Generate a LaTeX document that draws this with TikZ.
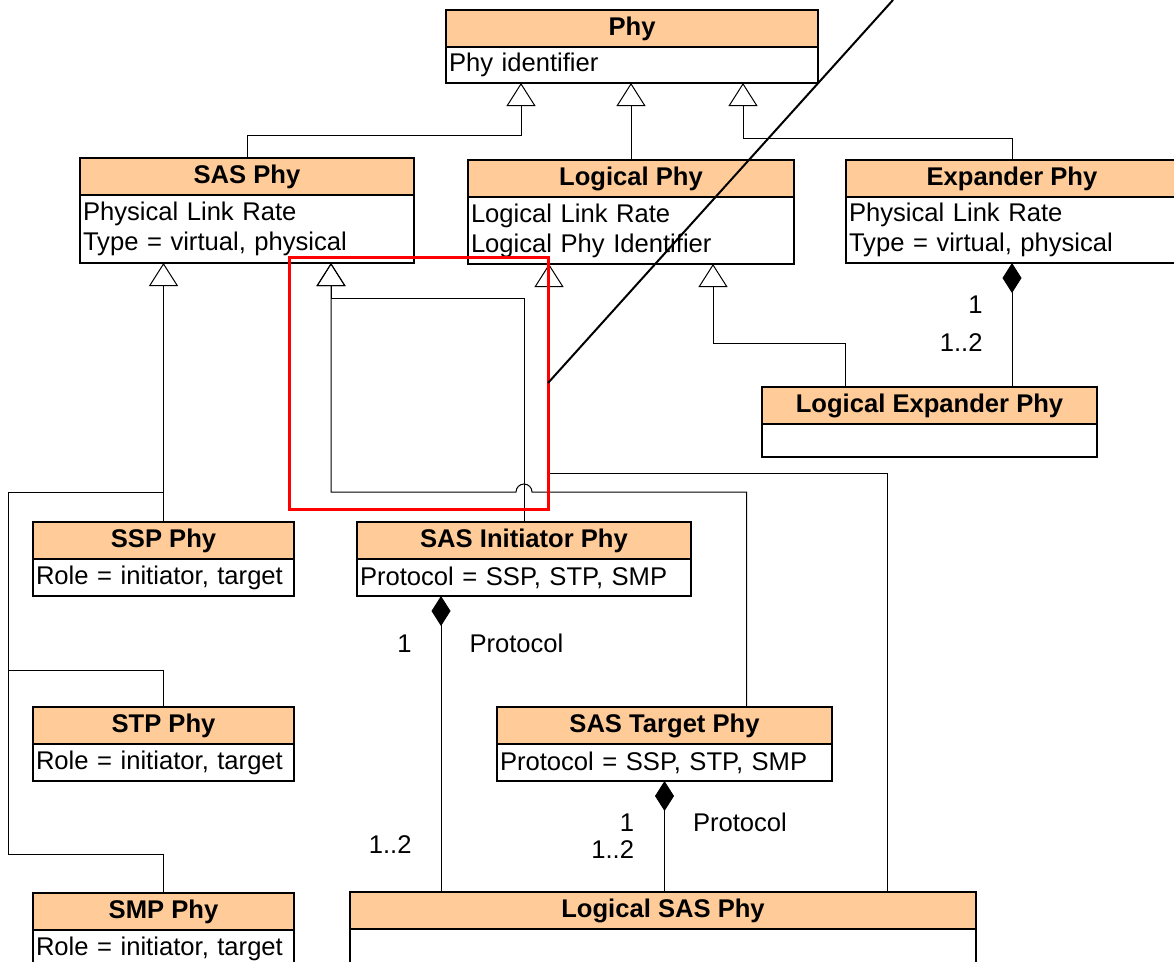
\documentclass[tikz,border=0pt]{standalone}
\usepackage{fontspec}
\setmainfont{Liberation Sans}
\usepackage{xcolor}
\usepackage{tikz}
\usetikzlibrary{arrows.meta,positioning}
\definecolor{classhead}{RGB}{255,204,153}
\newcommand{\classfont}{\fontsize{25.6}{30}\selectfont}

\begin{document}
\begin{tikzpicture}[x=1pt,y=-1pt,
  font=\classfont,
  head/.style={draw,fill=classhead,font=\classfont\bfseries,line width=1.7pt,outer sep=0pt,inner sep=0pt,minimum height=37pt,minimum width=#1,anchor=north west},
  attrs/.style={draw,fill=white,line width=1.7pt,outer sep=0pt,inner xsep=3pt,inner ysep=0pt,align=left,text width=#1},
  gen/.style={-{Triangle[open,length=23pt,width=29pt]},line width=1pt},
  comp/.style={-{Diamond[length=30pt,width=19pt]},line width=1pt},
  wire/.style={line width=1pt},
  mult/.style={inner sep=0pt}]
\path[use as bounding box,clip] (0,0) rectangle (1174,961);
\node[head=372pt] (phy) at (446,10) {Phy};
\node[attrs=366pt,minimum height=36pt,below=0pt of phy] (phy-a) {Phy identifier};
\node[head=334pt] (sasphy) at (80,158) {SAS Phy};
\node[attrs=328pt,minimum height=68pt,below=0pt of sasphy] (sasphy-a) {Physical Link Rate\\Type = virtual, physical};
\node[head=326pt] (logphy) at (468,160) {Logical Phy};
\node[attrs=320pt,minimum height=67pt,below=0pt of logphy] (logphy-a) {Logical Link Rate\\Logical Phy Identifier};
\node[head=332pt] (expphy) at (846,160) {Expander Phy};
\node[attrs=326pt,minimum height=66pt,below=0pt of expphy] (expphy-a) {Physical Link Rate\\Type = virtual, physical};
\node[head=335pt] (logexp) at (762,387) {Logical Expander Phy};
\node[attrs=329pt,minimum height=33pt,below=0pt of logexp] (logexp-a) {};
\node[head=261pt] (ssp) at (33,522) {SSP Phy};
\node[attrs=255pt,minimum height=37pt,below=0pt of ssp] (ssp-a) {Role = initiator, target};
\node[head=261pt] (stp) at (33,707) {STP Phy};
\node[attrs=255pt,minimum height=37pt,below=0pt of stp] (stp-a) {Role = initiator, target};
\node[head=261pt] (smp) at (33,893) {SMP Phy};
\node[attrs=255pt,minimum height=37pt,below=0pt of smp] (smp-a) {Role = initiator, target};
\node[head=334pt] (sasini) at (357,522) {SAS Initiator Phy};
\node[attrs=328pt,minimum height=37pt,below=0pt of sasini] (sasini-a) {Protocol = SSP, STP, SMP};
\node[head=335pt] (sastgt) at (497,707) {SAS Target Phy};
\node[attrs=329pt,minimum height=37pt,below=0pt of sastgt] (sastgt-a) {Protocol = SSP, STP, SMP};
\node[head=626pt] (logsas) at (350,892) {Logical SAS Phy};
\node[attrs=620pt,minimum height=40pt,below=0pt of logsas] (logsas-a) {};
\coordinate (phy-l) at ([xshift=-111pt]phy-a.south);
\coordinate (phy-r) at ([xshift=111pt]phy-a.south);
\coordinate (sasphy-l) at ([xshift=-84pt]sasphy-a.south);
\coordinate (sasphy-r) at ([xshift=84pt]sasphy-a.south);
\coordinate (logphy-l) at ([xshift=-82pt]logphy-a.south);
\coordinate (logphy-r) at ([xshift=82pt]logphy-a.south);
\coordinate (roletap) at ([yshift=30pt]ssp.north);
\coordinate (ini-port) at ([xshift=-83pt]sasini-a.south);
\draw[gen] (sasphy.north) -- ++(0,-23) -| (phy-l);
\draw[gen] (logphy.north) -- (logphy.north |- phy-a.south);
\draw[gen] (expphy.north) -- ++(0,-22) -| (phy-r);
\draw[gen] (ssp.north) -- (ssp.north |- sasphy-l);
\draw[wire] (stp.north) -- ++(0,-37) -| ([xshift=-155pt]roletap) -- (roletap);
\draw[wire] (smp.north) -- ++(0,-39) -| ([xshift=-155pt]roletap);
\draw[gen] (sasini.north) |- ([yshift=-35pt]sasphy-r) -- (sasphy-r);
\draw[gen] ([xshift=82pt]sastgt.north) |- ([xshift=8pt,yshift=30pt]sasini.north) arc[start angle=0,end angle=180,radius=8pt] -| (sasphy-r);
\draw[gen] ([xshift=224pt]logsas.north) -- ++(0,-419) -| (logphy-l);
\draw[gen] ([xshift=-84pt]logexp.north) -- ++(0,-44) -| (logphy-r);
\draw[comp] (expphy-a.south |- logexp.north) -- node[mult,pos=.66,left=29pt]{1} node[mult,pos=.355,left=29pt]{1..2} (expphy-a.south);
\draw[comp] (ini-port |- logsas.north) -- node[mult,pos=.84,left=29pt]{1} node[mult,pos=.84,right=28pt]{Protocol} node[mult,pos=.16,left=29pt]{1..2} (ini-port);
\draw[comp] (sastgt-a.south |- logsas.north) -- node[mult,pos=.625,left=30pt]{1} node[mult,pos=.625,right=28pt]{Protocol} node[mult,pos=.384,left=30pt]{1..2} (sastgt-a.south);
\node[draw=red,line width=3pt,outer sep=0pt,inner sep=0pt,minimum width=259pt,minimum height=252pt,anchor=north west] (focus) at (289,257) {};
\coordinate (lens) at (893,0);
\draw[line width=2pt] (focus.east) -- (lens);
\end{tikzpicture}
\end{document}
